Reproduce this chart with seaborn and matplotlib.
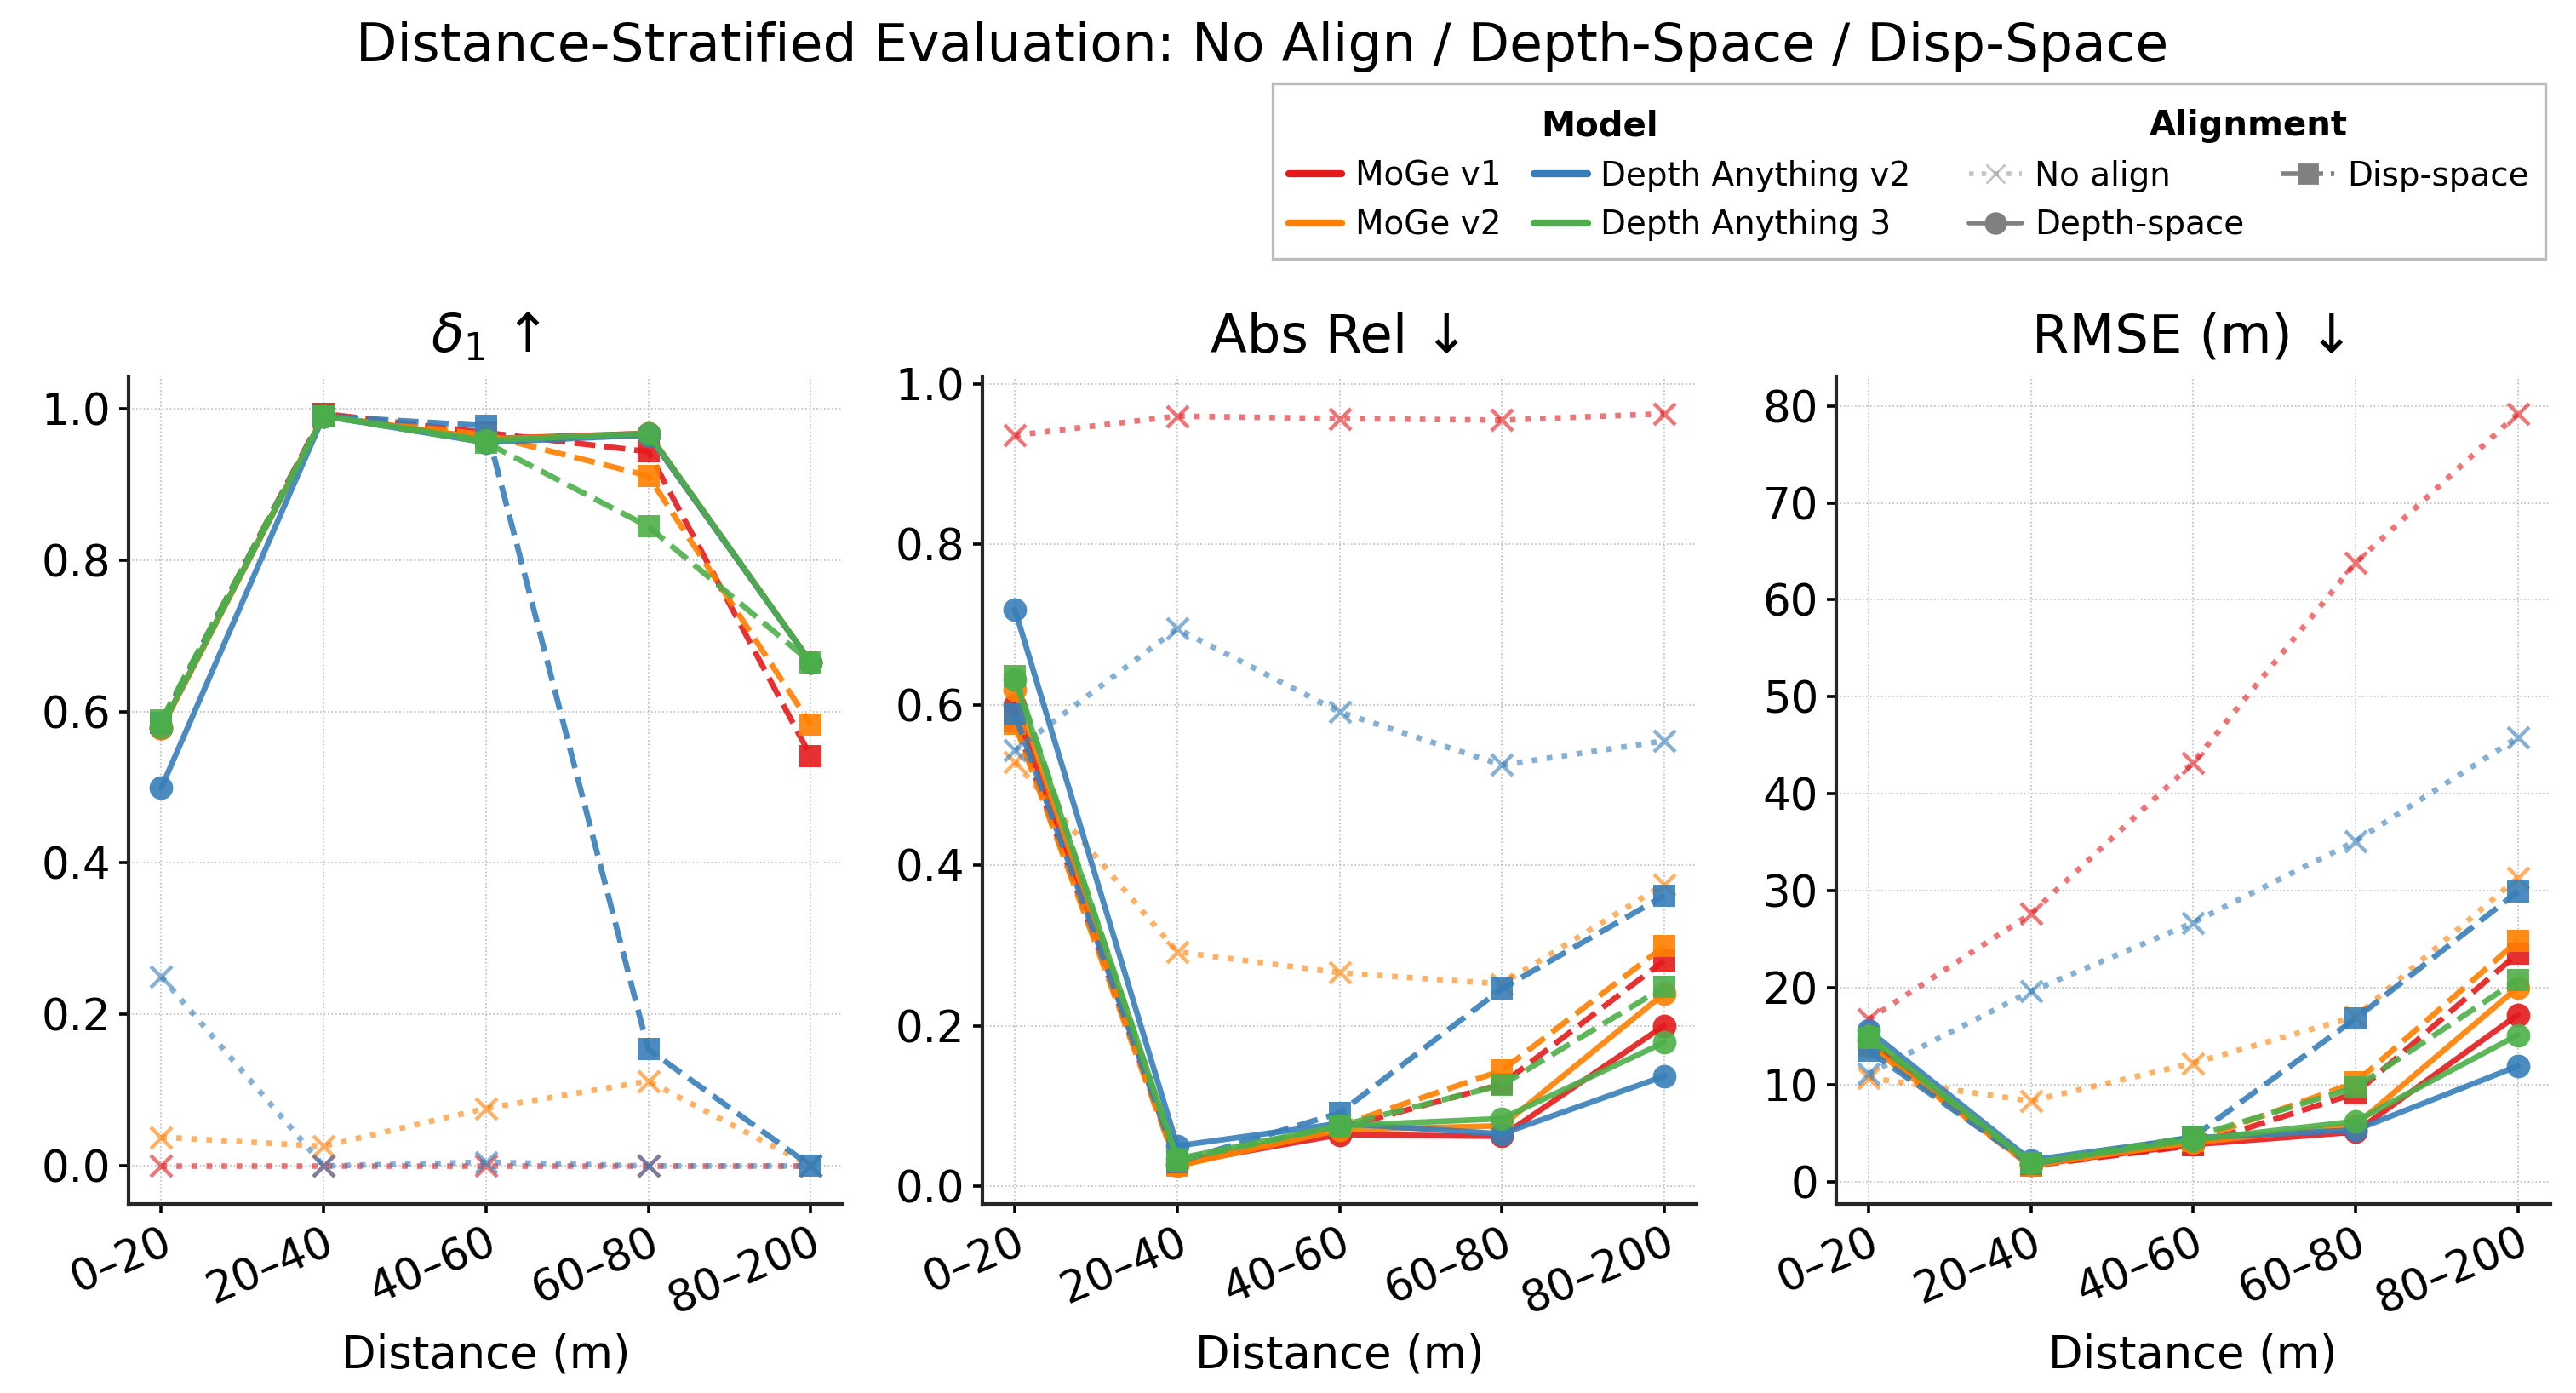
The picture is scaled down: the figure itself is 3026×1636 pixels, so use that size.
"""
Distance-stratified evaluation plot (delta1 / AbsRel / RMSE)
"""

import matplotlib.pyplot as plt
import seaborn as sns
from matplotlib.lines import Line2D
from matplotlib.patches import Rectangle

bins = ["0–20", "20–40", "40–60", "60–80", "80–200"]
models = ["MoGe v1", "MoGe v2", "Depth Anything v2", "Depth Anything 3"]
colors = {"MoGe v1": "#e41a1c", "MoGe v2": "#ff7f00",
          "Depth Anything v2": "#377eb8", "Depth Anything 3": "#4daf4a"}

# delta1
delta1_noalign = {"MoGe v1": [0.0, 0.0, 0.0, 0.0, 0.0],
                  "MoGe v2": [0.038, 0.026, 0.076, 0.112, 0.0],
                  "Depth Anything v2": [0.250, 0.0, 0.005, 0.0, 0.0]}
delta1_disp = {"MoGe v1": [0.585, 0.993, 0.968, 0.943, 0.541],
               "MoGe v2": [0.585, 0.990, 0.965, 0.911, 0.583],
               "Depth Anything v2": [0.585, 0.990, 0.977, 0.154, 0.0],
               "Depth Anything 3": [0.588, 0.990, 0.955, 0.844, 0.665]}
delta1_depth = {"MoGe v1": [0.578, 0.990, 0.960, 0.967, 0.665],
                "MoGe v2": [0.578, 0.990, 0.960, 0.965, 0.665],
                "Depth Anything v2": [0.499, 0.990, 0.955, 0.965, 0.665],
                "Depth Anything 3": [0.579, 0.990, 0.958, 0.967, 0.665]}

# AbsRel
absrel_noalign = {"MoGe v1": [0.936, 0.960, 0.957, 0.955, 0.963],
                  "MoGe v2": [0.529, 0.292, 0.266, 0.252, 0.376],
                  "Depth Anything v2": [0.543, 0.695, 0.591, 0.525, 0.555]}
absrel_disp = {"MoGe v1": [0.580, 0.028, 0.072, 0.127, 0.281],
               "MoGe v2": [0.576, 0.025, 0.075, 0.144, 0.299],
               "Depth Anything v2": [0.588, 0.030, 0.091, 0.246, 0.362],
               "Depth Anything 3": [0.636, 0.032, 0.075, 0.126, 0.248]}
absrel_depth = {"MoGe v1": [0.600, 0.028, 0.064, 0.062, 0.200],
                "MoGe v2": [0.619, 0.025, 0.070, 0.075, 0.240],
                "Depth Anything v2": [0.719, 0.050, 0.078, 0.065, 0.137],
                "Depth Anything 3": [0.632, 0.034, 0.075, 0.084, 0.179]}

# RMSE
rmse_noalign = {"MoGe v1": [16.7, 27.6, 43.2, 63.8, 79.2],
                "MoGe v2": [10.7, 8.3, 12.2, 17.0, 31.3],
                "Depth Anything v2": [11.1, 19.6, 26.7, 35.1, 45.8]}
rmse_disp = {"MoGe v1": [14.2, 1.6, 3.7, 9.1, 23.5],
             "MoGe v2": [14.0, 1.6, 4.2, 10.2, 24.8],
             "Depth Anything v2": [13.5, 1.8, 4.6, 16.8, 29.9],
             "Depth Anything 3": [14.8, 1.9, 4.6, 9.7, 20.8]}
rmse_depth = {"MoGe v1": [14.5, 1.7, 3.8, 5.1, 17.2],
              "MoGe v2": [14.0, 1.7, 4.0, 5.8, 20.0],
              "Depth Anything v2": [15.6, 2.2, 4.5, 5.3, 11.9],
              "Depth Anything 3": [15.0, 1.9, 4.3, 6.2, 15.1]}

panels = [
    (r"$\delta_1$ ↑", delta1_noalign, delta1_disp, delta1_depth),
    ("Abs Rel ↓", absrel_noalign, absrel_disp, absrel_depth),
    ("RMSE (m) ↓", rmse_noalign, rmse_disp, rmse_depth),
]

styles = {
    "No align": dict(linestyle=":", marker="x", alpha=0.6, linewidth=2.4,
                     markersize=9, markeredgewidth=1.6),
    "Disp-space": dict(linestyle="--", marker="s", alpha=0.9, linewidth=2.4,
                       markersize=9.5, markeredgewidth=0),
    "Depth-space": dict(linestyle="-", marker="o", alpha=0.9, linewidth=2.4,
                        markersize=10, markeredgewidth=0),
}

sns.set_theme(style="ticks")
plt.rcParams['font.family'] = ['DejaVu Sans']
plt.rcParams['text.color'] = 'black'
plt.rcParams['axes.labelcolor'] = 'black'
plt.rcParams['xtick.color'] = 'black'
plt.rcParams['ytick.color'] = 'black'

fig, axes = plt.subplots(1, 3, figsize=(15.13, 8.18))
fig.subplots_adjust(left=0.05, right=0.99, top=0.73, bottom=0.136, wspace=0.195)

for ax, (title, noalign, disp, depth) in zip(axes, panels):
    for m in models:
        for align, data in [("No align", noalign), ("Disp-space", disp),
                            ("Depth-space", depth)]:
            if m not in data:
                continue
            sns.lineplot(x=bins, y=data[m], ax=ax, sort=False,
                         color=colors[m], markeredgecolor=colors[m],
                         **styles[align])
    ax.set_title(title, fontsize=22.5, pad=10)
    ax.set_xlabel("Distance (m)", fontsize=19, labelpad=4)
    ax.set_ylabel("")
    ax.tick_params(axis='both', labelsize=18.5, width=1.3, length=4)
    plt.setp(ax.get_xticklabels(), rotation=23, ha='right', rotation_mode='anchor')
    ax.grid(True, linestyle=':', linewidth=0.6, color='#bbbbbb')
    for s in ax.spines.values():
        s.set_linewidth(1.5)
        s.set_color('#262626')
    sns.despine(ax=ax)

fig.suptitle("Distance-Stratified Evaluation: No Align / Depth-Space / Disp-Space",
             fontsize=22.7, x=0.49, y=0.985)

# legend box
fig.patches.append(Rectangle((0.494, 0.814), 0.494, 0.126, transform=fig.transFigure,
                             facecolor='white', edgecolor='#bbbbbb', linewidth=1.2))

model_handles = [Line2D([], [], color=colors[m], lw=3) for m in models]
leg1 = fig.legend(model_handles, models, ncol=2, loc='upper center',
                  bbox_to_anchor=(0.621, 0.943), frameon=False, fontsize=14,
                  title="Model", title_fontproperties={'weight': 'bold', 'size': 14.5},
                  handlelength=1.6, columnspacing=1.0, handletextpad=0.4,
                  labelspacing=0.5)

align_names = ["No align", "Depth-space", "Disp-space"]
align_handles = [
    Line2D([], [], color='#aaaaaa', linestyle=':', marker='x', lw=2, ms=8, alpha=0.7),
    Line2D([], [], color='#808080', linestyle='-', marker='o', lw=2, ms=8.5),
    Line2D([], [], color='#808080', linestyle='--', marker='s', lw=2, ms=8),
]
leg2 = fig.legend(align_handles, align_names, ncol=2, loc='upper center',
                  bbox_to_anchor=(0.873, 0.943), frameon=False, fontsize=14,
                  title="Alignment", title_fontproperties={'weight': 'bold', 'size': 14.5},
                  handlelength=1.6, columnspacing=1.1, handletextpad=0.4,
                  labelspacing=0.5)

fig.savefig("out.png", dpi=200)
